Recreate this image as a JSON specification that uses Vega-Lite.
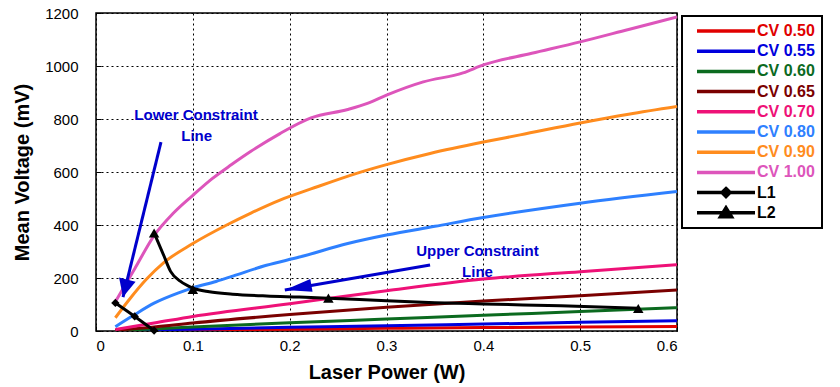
{
  "$schema": "https://vega.github.io/schema/vega-lite/v6.json",
  "width": 581,
  "height": 318,
  "autosize": {"type": "none"},
  "padding": {"left": 96, "top": 13, "right": 163, "bottom": 56},
  "background": "white",
  "config": {
    "font": "Liberation Sans",
    "view": {"stroke": "black", "strokeWidth": 1.5},
    "axis": {
      "labelFont": "Liberation Sans", "labelFontSize": 15, "labelColor": "black",
      "titleFont": "Liberation Sans", "titleFontSize": 20, "titleFontWeight": "bold", "titleColor": "black",
      "domain": false, "tickColor": "black", "tickSize": -5, "tickWidth": 1
    }
  },
  "datasets": {
    "curves": [
      {"s": "CV 0.50", "x": 0.02, "y": 0}, {"s": "CV 0.50", "x": 0.1, "y": 3}, {"s": "CV 0.50", "x": 0.2, "y": 7}, {"s": "CV 0.50", "x": 0.3, "y": 10}, {"s": "CV 0.50", "x": 0.4, "y": 13}, {"s": "CV 0.50", "x": 0.5, "y": 15}, {"s": "CV 0.50", "x": 0.6, "y": 17},
      {"s": "CV 0.55", "x": 0.02, "y": 1}, {"s": "CV 0.55", "x": 0.1, "y": 7}, {"s": "CV 0.55", "x": 0.2, "y": 14}, {"s": "CV 0.55", "x": 0.3, "y": 20}, {"s": "CV 0.55", "x": 0.4, "y": 26}, {"s": "CV 0.55", "x": 0.5, "y": 33}, {"s": "CV 0.55", "x": 0.6, "y": 39},
      {"s": "CV 0.60", "x": 0.02, "y": 2}, {"s": "CV 0.60", "x": 0.06, "y": 8}, {"s": "CV 0.60", "x": 0.1, "y": 15}, {"s": "CV 0.60", "x": 0.2, "y": 31}, {"s": "CV 0.60", "x": 0.3, "y": 45}, {"s": "CV 0.60", "x": 0.4, "y": 59}, {"s": "CV 0.60", "x": 0.5, "y": 74}, {"s": "CV 0.60", "x": 0.6, "y": 88},
      {"s": "CV 0.65", "x": 0.02, "y": 3}, {"s": "CV 0.65", "x": 0.06, "y": 15}, {"s": "CV 0.65", "x": 0.1, "y": 30}, {"s": "CV 0.65", "x": 0.2, "y": 62}, {"s": "CV 0.65", "x": 0.3, "y": 90}, {"s": "CV 0.65", "x": 0.4, "y": 113}, {"s": "CV 0.65", "x": 0.5, "y": 133}, {"s": "CV 0.65", "x": 0.6, "y": 155},
      {"s": "CV 0.70", "x": 0.02, "y": 6}, {"s": "CV 0.70", "x": 0.06, "y": 30}, {"s": "CV 0.70", "x": 0.1, "y": 55}, {"s": "CV 0.70", "x": 0.2, "y": 103}, {"s": "CV 0.70", "x": 0.3, "y": 152}, {"s": "CV 0.70", "x": 0.4, "y": 196}, {"s": "CV 0.70", "x": 0.5, "y": 224}, {"s": "CV 0.70", "x": 0.6, "y": 250},
      {"s": "CV 0.80", "x": 0.02, "y": 16}, {"s": "CV 0.80", "x": 0.04, "y": 62}, {"s": "CV 0.80", "x": 0.06, "y": 105}, {"s": "CV 0.80", "x": 0.086, "y": 145}, {"s": "CV 0.80", "x": 0.1, "y": 163}, {"s": "CV 0.80", "x": 0.124, "y": 187}, {"s": "CV 0.80", "x": 0.142, "y": 208}, {"s": "CV 0.80", "x": 0.176, "y": 248}, {"s": "CV 0.80", "x": 0.21, "y": 279}, {"s": "CV 0.80", "x": 0.26, "y": 330}, {"s": "CV 0.80", "x": 0.3, "y": 362}, {"s": "CV 0.80", "x": 0.35, "y": 395}, {"s": "CV 0.80", "x": 0.4, "y": 428}, {"s": "CV 0.80", "x": 0.5, "y": 482}, {"s": "CV 0.80", "x": 0.6, "y": 526},
      {"s": "CV 0.90", "x": 0.02, "y": 50}, {"s": "CV 0.90", "x": 0.034, "y": 117}, {"s": "CV 0.90", "x": 0.052, "y": 195}, {"s": "CV 0.90", "x": 0.07, "y": 258}, {"s": "CV 0.90", "x": 0.1, "y": 330}, {"s": "CV 0.90", "x": 0.135, "y": 400}, {"s": "CV 0.90", "x": 0.16, "y": 445}, {"s": "CV 0.90", "x": 0.19, "y": 494}, {"s": "CV 0.90", "x": 0.222, "y": 536}, {"s": "CV 0.90", "x": 0.27, "y": 596}, {"s": "CV 0.90", "x": 0.3, "y": 628}, {"s": "CV 0.90", "x": 0.345, "y": 670}, {"s": "CV 0.90", "x": 0.4, "y": 713}, {"s": "CV 0.90", "x": 0.438, "y": 740}, {"s": "CV 0.90", "x": 0.5, "y": 785}, {"s": "CV 0.90", "x": 0.55, "y": 818}, {"s": "CV 0.90", "x": 0.6, "y": 847},
      {"s": "CV 1.00", "x": 0.02, "y": 110}, {"s": "CV 1.00", "x": 0.04, "y": 235}, {"s": "CV 1.00", "x": 0.06, "y": 360}, {"s": "CV 1.00", "x": 0.08, "y": 445}, {"s": "CV 1.00", "x": 0.1, "y": 512}, {"s": "CV 1.00", "x": 0.12, "y": 575}, {"s": "CV 1.00", "x": 0.14, "y": 628}, {"s": "CV 1.00", "x": 0.16, "y": 678}, {"s": "CV 1.00", "x": 0.19, "y": 745}, {"s": "CV 1.00", "x": 0.222, "y": 804}, {"s": "CV 1.00", "x": 0.26, "y": 836}, {"s": "CV 1.00", "x": 0.281, "y": 860}, {"s": "CV 1.00", "x": 0.3, "y": 890}, {"s": "CV 1.00", "x": 0.338, "y": 940}, {"s": "CV 1.00", "x": 0.379, "y": 974}, {"s": "CV 1.00", "x": 0.4, "y": 1004}, {"s": "CV 1.00", "x": 0.45, "y": 1048}, {"s": "CV 1.00", "x": 0.5, "y": 1091}, {"s": "CV 1.00", "x": 0.55, "y": 1138}, {"s": "CV 1.00", "x": 0.6, "y": 1185},
      {"s": "L1", "x": 0.02, "y": 106}, {"s": "L1", "x": 0.04, "y": 55}, {"s": "L1", "x": 0.06, "y": 2},
      {"s": "L2", "x": 0.06, "y": 370}, {"s": "L2", "x": 0.07, "y": 285}, {"s": "L2", "x": 0.077, "y": 225}, {"s": "L2", "x": 0.087, "y": 188}, {"s": "L2", "x": 0.1, "y": 162}, {"s": "L2", "x": 0.117, "y": 148}, {"s": "L2", "x": 0.141, "y": 139}, {"s": "L2", "x": 0.176, "y": 132}, {"s": "L2", "x": 0.21, "y": 128}, {"s": "L2", "x": 0.24, "y": 124}, {"s": "L2", "x": 0.3, "y": 114}, {"s": "L2", "x": 0.35, "y": 107}, {"s": "L2", "x": 0.4, "y": 102}, {"s": "L2", "x": 0.48, "y": 95}, {"s": "L2", "x": 0.56, "y": 86}
    ],
    "markers": [
      {"s": "L1", "x": 0.02, "y": 106}, {"s": "L1", "x": 0.04, "y": 55}, {"s": "L1", "x": 0.06, "y": 2},
      {"s": "L2", "x": 0.06, "y": 370}, {"s": "L2", "x": 0.1, "y": 157}, {"s": "L2", "x": 0.24, "y": 124}, {"s": "L2", "x": 0.56, "y": 85}
    ],
    "arrows": [
      {"a": "lower", "x": 0.0671, "y": 713, "x2": 0.0279, "y2": 128},
      {"a": "upper", "x": 0.345, "y": 249, "x2": 0.195, "y2": 155}
    ],
    "notes": [
      {"t": "Lower Constraint", "x": 0.1033, "y": 815},
      {"t": "Line", "x": 0.104, "y": 736},
      {"t": "Upper Constraint", "x": 0.394, "y": 302},
      {"t": "Line", "x": 0.394, "y": 223}
    ]
  },
  "layer": [
    {
      "data": {"name": "curves"},
      "mark": {"type": "line", "strokeWidth": 3, "interpolate": "monotone", "clip": true},
      "encoding": {
        "x": {"field": "x", "type": "quantitative", "scale": {"domain": [0, 0.6], "nice": false},
          "axis": {"title": "Laser Power (W)", "values": [0, 0.1, 0.2, 0.3, 0.4, 0.5, 0.6], "format": ".1~f", "labelPadding": 12, "titlePadding": 9,
            "grid": true, "gridColor": "black", "gridDash": [2, 3], "gridWidth": 1, "gridOpacity": 1}},
        "y": {"field": "y", "type": "quantitative", "scale": {"domain": [0, 1200], "nice": false},
          "axis": {"title": "Mean Voltage (mV)", "values": [0, 200, 400, 600, 800, 1000, 1200], "format": "d", "labelPadding": 23, "titlePadding": 12,
            "grid": true, "gridColor": "black", "gridDash": [2, 3], "gridWidth": 1, "gridOpacity": 1}},
        "color": {"field": "s", "type": "nominal",
          "scale": {"domain": ["CV 0.50", "CV 0.55", "CV 0.60", "CV 0.65", "CV 0.70", "CV 0.80", "CV 0.90", "CV 1.00", "L1", "L2"],
                    "range": ["#e00000", "#0000dd", "#0b6a1f", "#7a0000", "#ee1177", "#2e80ff", "#ff8c1e", "#dd55bb", "#000000", "#000000"]},
          "legend": {
            "orient": "none", "legendX": 586, "legendY": 3, "title": null,
            "strokeColor": "black", "fillColor": "white", "padding": 7, "clipHeight": 16,
            "symbolSize": 4, "symbolStrokeWidth": 3.5, "symbolOffset": 29, "labelOffset": 23,
            "labelFont": "Liberation Sans", "labelFontSize": 16, "labelFontWeight": "bold", "rowPadding": 4.2,
            "encode": {
              "legend": {"update": {"strokeWidth": {"value": 2}}},
              "symbols": {"update": {
                "shape": {"signal": "datum.value === 'L1' ? 'M-29,0H29M0,-4L4,0L0,4L-4,0Z' : (datum.value === 'L2' ? 'M-29,0H29M0,-5L5.5,4L-5.5,4Z' : 'M-29,0H29')"},
                "fill": {"scale": "color", "field": "value"},
                "stroke": {"scale": "color", "field": "value"}
              }},
              "labels": {"update": {"fill": {"scale": "color", "field": "value"}}}
            }
          }
        }
      }
    },
    {
      "data": {"name": "markers"},
      "mark": {"type": "point", "filled": true, "color": "black", "opacity": 1},
      "encoding": {
        "x": {"field": "x", "type": "quantitative"},
        "y": {"field": "y", "type": "quantitative"},
        "shape": {"field": "s", "type": "nominal", "scale": {"domain": ["L1", "L2"], "range": ["diamond", "triangle-up"]}, "legend": null},
        "size": {"field": "s", "type": "nominal", "scale": {"domain": ["L1", "L2"], "range": [70, 110]}, "legend": null}
      }
    },
    {
      "data": {"name": "arrows"},
      "mark": {"type": "rule", "color": "#0000cc", "strokeWidth": 3},
      "encoding": {
        "x": {"field": "x", "type": "quantitative"},
        "y": {"field": "y", "type": "quantitative"},
        "x2": {"field": "x2"},
        "y2": {"field": "y2"}
      }
    },
    {
      "data": {"name": "arrows"},
      "transform": [{"filter": "datum.a === 'lower'"}],
      "mark": {"type": "point", "filled": true, "color": "#0000cc", "opacity": 1, "size": 4, "shape": "M0,0L8.5,18L-8.5,18Z", "angle": 193.8},
      "encoding": {
        "x": {"field": "x2", "type": "quantitative"},
        "y": {"field": "y2", "type": "quantitative"}
      }
    },
    {
      "data": {"name": "arrows"},
      "transform": [{"filter": "datum.a === 'upper'"}],
      "mark": {"type": "point", "filled": true, "color": "#0000cc", "opacity": 1, "size": 4, "shape": "M0,0L6.5,27L-6.5,27Z", "angle": 260.2},
      "encoding": {
        "x": {"field": "x2", "type": "quantitative"},
        "y": {"field": "y2", "type": "quantitative"}
      }
    },
    {
      "data": {"name": "notes"},
      "mark": {"type": "text", "color": "#0000cc", "font": "Liberation Sans", "fontSize": 15, "fontWeight": "bold", "align": "center", "baseline": "middle"},
      "encoding": {
        "x": {"field": "x", "type": "quantitative"},
        "y": {"field": "y", "type": "quantitative"},
        "text": {"field": "t"}
      }
    }
  ]
}
